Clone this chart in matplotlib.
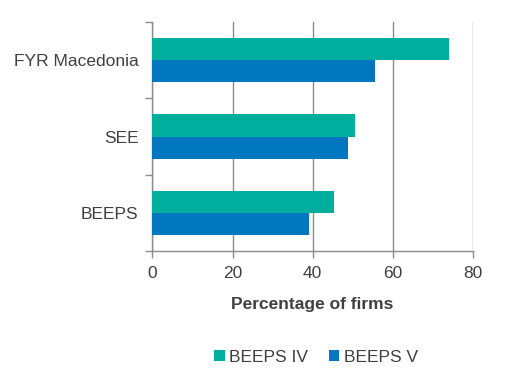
import matplotlib.pyplot as plt
import numpy as np

plt.rcParams['font.family'] = ['Liberation Sans', 'DejaVu Sans']

categories = ["BEEPS", "SEE", "FYR Macedonia"]
beeps_iv = [45.3, 50.5, 74.0]
beeps_v = [39.0, 48.8, 55.5]
xticks = [0, 20, 40, 60, 80]

teal = "#00AE9E"
blue = "#0077BE"
grey = "#8C8C8C"
txt = "#404040"

fig = plt.figure(figsize=(5.08, 3.84), dpi=100)
ax = fig.add_axes([0.300, 0.346, 0.631, 0.597])

y = np.arange(len(categories))
h = 0.29
ax.barh(y + h / 2, beeps_iv, h, color=teal, label="BEEPS IV", zorder=3)
ax.barh(y - h / 2, beeps_v, h, color=blue, label="BEEPS V", zorder=3)

ax.set_xlim(0, 80)
ax.set_ylim(-0.5, 2.5)
ax.set_xticks(xticks)
ax.set_yticks(y)
ax.set_yticklabels(categories)
ax.set_yticks([-0.5, 0.5, 1.5, 2.5], minor=True)
ax.tick_params(axis="y", which="major", length=0, pad=10)
ax.tick_params(axis="y", which="minor", length=5, color=grey, width=1)
ax.tick_params(axis="x", length=5, color=grey, width=1, pad=6)
ax.tick_params(labelsize=12.5, labelcolor=txt)

ax.grid(axis="x", color=grey, linewidth=1, zorder=0)
for s in ["top", "right"]:
    ax.spines[s].set_visible(False)
for s in ["left", "bottom"]:
    ax.spines[s].set_color(grey)
    ax.spines[s].set_linewidth(1)

ax.set_xlabel("Percentage of firms", fontsize=12.5, fontweight="bold", color=txt, labelpad=11)

leg = fig.legend(loc="center", bbox_to_anchor=(0.622, 0.07), ncol=2, frameon=False,
                 fontsize=12.5, handlelength=0.6, handleheight=0.6, handletextpad=0.25,
                 columnspacing=1.2)
for t in leg.get_texts():
    t.set_color(txt)

fig.savefig("out.png", dpi=100)
